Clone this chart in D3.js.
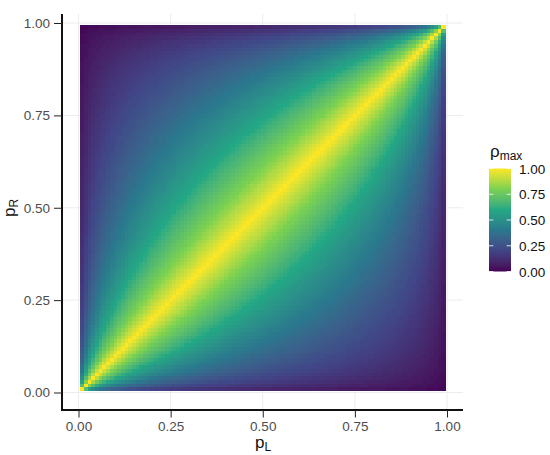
<!DOCTYPE html>
<html><head><meta charset="utf-8">
<script src="https://cdn.jsdelivr.net/npm/d3@7"></script>
<style>html,body{margin:0;padding:0;background:#fff}svg{display:block}text{font-family:"Liberation Sans",Arial,sans-serif}</style>
</head><body><svg id="c" width="550" height="455"></svg>
<script>
const tickValues=[0,0.25,0.5,0.75,1];
const tickLabels=["0.00","0.25","0.50","0.75","1.00"];
const legendTicks=[0,0.25,0.5,0.75,1];
const colorStops=[0,0.2,0.4,0.6,0.8,1];
const colorValues=["#440154","#414487","#2A788E","#22A884","#7AD151","#FDE725"];
// rho_max in percent. Row n is pL = n/100; entries run over pR = n/100 .. (100-n)/100, the rest of the square mirrors these.
const rhoRows=[
[100,70,57,49,44,40,37,34,32, 30,29,27,26,25,24,23,22,21,21, 20,19,19,18,18,17,17,17,16,16, 15,15,15,14,14,14,13,13,13,13, 12,12,12,12,11,11,11,11,10,10, 10,10,10,9,9,9,9,9,9,8, 8,8,8,8,8,7,7,7,7,7, 7,6,6,6,6,6,6,5,5,5, 5,5,5,5,4,4,4,4,4,4, 3,3,3,3,3,2,2,2,1,1],
[100,81,70,62,57,52,48,45, 43,41,39,37,35,34,33,32,30,30, 29,28,27,26,25,25,24,23,23,22, 22,21,21,20,20,19,19,19,18,18, 18,17,17,16,16,16,15,15,15,15, 14,14,14,13,13,13,13,12,12,12, 12,11,11,11,11,10,10,10,10,10, 9,9,9,9,8,8,8,8,8,7, 7,7,7,6,6,6,6,6,5,5, 5,4,4,4,4,3,3,3,2],
[100,86,77,70,64,60,56, 53,50,48,45,44,42,40,39,38,36, 35,34,33,32,31,30,30,29,28,28, 27,26,26,25,25,24,23,23,22,22, 22,21,21,20,20,19,19,19,18,18, 18,17,17,17,16,16,16,15,15,15, 14,14,14,13,13,13,13,12,12,12, 12,11,11,11,10,10,10,10,9,9, 9,9,8,8,8,7,7,7,6,6, 6,6,5,5,4,4,4,3],
[100,89,81,74,69,65, 61,58,55,53,51,49,47,45,44,42, 41,40,38,37,36,35,34,34,33,32, 31,30,30,29,28,28,27,27,26,26, 25,24,24,23,23,23,22,22,21,21, 20,20,20,19,19,18,18,18,17,17, 17,16,16,16,15,15,15,14,14,14, 13,13,13,12,12,12,11,11,11,11, 10,10,10,9,9,9,8,8,8,7, 7,6,6,6,5,5,4],
[100,91,84,78,73, 69,65,62,59,57,55,53,51,49,47, 46,45,43,42,41,40,39,38,37,36, 35,34,33,33,32,31,31,30,29,29, 28,28,27,26,26,25,25,24,24,23, 23,22,22,22,21,21,20,20,20,19, 19,18,18,18,17,17,16,16,16,15, 15,15,14,14,14,13,13,13,12,12, 11,11,11,10,10,10,9,9,8,8, 8,7,7,6,6,5],
[100,92,86,80, 76,72,68,65,63,60,58,56,54,52, 51,49,48,46,45,44,43,42,41,40, 39,38,37,36,35,34,34,33,32,32, 31,30,30,29,29,28,27,27,26,26, 25,25,24,24,23,23,22,22,22,21, 21,20,20,19,19,19,18,18,17,17, 17,16,16,15,15,15,14,14,13,13, 13,12,12,11,11,11,10,10,9,9, 8,8,7,7,6],
[100,93,87, 82,78,74,71,68,65,63,60,58,57, 55,53,52,50,49,48,46,45,44,43, 42,41,40,39,38,37,37,36,35,34, 34,33,32,32,31,30,30,29,29,28, 27,27,26,26,25,25,24,24,23,23, 22,22,21,21,21,20,20,19,19,18, 18,17,17,17,16,16,15,15,14,14, 14,13,13,12,12,12,11,11,10,10, 9,9,8,8],
[100,94, 88,84,80,76,73,70,67,65,63,61, 59,57,56,54,52,51,50,49,47,46, 45,44,43,42,41,40,39,38,38,37, 36,35,35,34,33,33,32,31,31,30, 29,29,28,28,27,27,26,26,25,25, 24,24,23,23,22,22,21,21,20,20, 19,19,18,18,17,17,17,16,16,15, 15,14,14,13,13,12,12,11,11,10, 10,9,9],
[100, 94,89,85,81,78,75,72,69,67,65, 63,61,59,58,56,54,53,52,50,49, 48,47,46,45,44,43,42,41,40,39, 39,38,37,36,35,35,34,33,33,32, 31,31,30,30,29,28,28,27,27,26, 26,25,25,24,24,23,22,22,21,21, 21,20,20,19,19,18,18,17,17,16, 16,15,15,14,14,13,13,12,12,11, 10,10],
[100,95,90,86,83,79,76,74,71,69, 67,65,63,61,59,58,56,55,53,52, 51,50,49,48,46,45,44,44,43,42, 41,40,39,38,38,37,36,35,35,34, 33,33,32,31,31,30,30,29,28,28, 27,27,26,26,25,24,24,23,23,22, 22,21,21,20,20,19,19,18,18,17, 17,16,16,15,15,14,13,13,12,12, 11],
[100,95,91,87,84,81,78,75,73, 70,68,66,64,63,61,59,58,56,55, 54,52,51,50,49,48,47,46,45,44, 43,42,41,40,40,39,38,37,37,36, 35,34,34,33,32,32,31,31,30,29, 29,28,28,27,26,26,25,25,24,24, 23,22,22,21,21,20,20,19,19,18, 18,17,16,16,15,15,14,14,13,12],
[100,96,92,88,85,82,79,76, 74,72,70,68,66,64,62,61,59,58, 56,55,54,53,51,50,49,48,47,46, 45,44,43,43,42,41,40,39,38,38, 37,36,35,35,34,33,33,32,31,31, 30,30,29,28,28,27,27,26,25,25, 24,24,23,22,22,21,21,20,20,19, 18,18,17,17,16,16,15,14,14],
[100,96,92,89,85,83,80, 77,75,73,71,69,67,65,64,62,60, 59,58,56,55,54,53,52,50,49,48, 47,46,45,44,44,43,42,41,40,39, 39,38,37,36,36,35,34,34,33,32, 32,31,30,30,29,28,28,27,27,26, 25,25,24,23,23,22,22,21,21,20, 19,19,18,17,17,16,16,15],
[100,96,92,89,86,83, 81,78,76,74,72,70,68,66,65,63, 62,60,59,58,56,55,54,53,52,50, 49,48,47,46,46,45,44,43,42,41, 40,40,39,38,37,37,36,35,34,34, 33,32,32,31,30,30,29,28,28,27, 26,26,25,25,24,23,23,22,21,21, 20,20,19,18,18,17,16],
[100,96,93,90,87, 84,82,79,77,75,73,71,69,67,66, 64,63,61,60,59,57,56,55,54,53, 51,50,49,48,47,46,46,45,44,43, 42,41,40,40,39,38,37,37,36,35, 34,34,33,32,32,31,30,29,29,28, 28,27,26,26,25,24,24,23,22,22, 21,20,20,19,18,18],
[100,96,93,90, 87,85,82,80,78,76,74,72,70,68, 67,65,64,62,61,59,58,57,56,55, 53,52,51,50,49,48,47,46,45,45, 44,43,42,41,40,40,39,38,37,36, 36,35,34,33,33,32,31,31,30,29, 29,28,27,27,26,25,25,24,23,22, 22,21,20,20,19],
[100,97,93, 90,88,85,83,81,78,76,74,73,71, 69,68,66,64,63,62,60,59,58,57, 55,54,53,52,51,50,49,48,47,46, 45,44,43,43,42,41,40,39,39,38, 37,36,35,35,34,33,32,32,31,30, 30,29,28,28,27,26,25,25,24,23, 23,22,21,20],
[100,97, 94,91,88,86,83,81,79,77,75,73, 72,70,68,67,65,64,62,61,60,59, 57,56,55,54,53,52,51,50,49,48, 47,46,45,44,43,42,42,41,40,39, 38,37,37,36,35,34,34,33,32,31, 31,30,29,28,28,27,26,26,25,24, 23,23,22],
[100, 97,94,91,89,86,84,82,80,78,76, 74,72,71,69,67,66,65,63,62,61, 59,58,57,56,55,54,52,51,50,49, 48,47,47,46,45,44,43,42,41,40, 40,39,38,37,36,36,35,34,33,32, 32,31,30,29,29,28,27,26,26,25, 24,23],
[100,97,94,92,89,87,84,82,80,78, 76,75,73,71,70,68,67,65,64,63, 61,60,59,58,56,55,54,53,52,51, 50,49,48,47,46,45,44,43,43,42, 41,40,39,38,38,37,36,35,34,34, 33,32,31,30,30,29,28,27,27,26, 25],
[100,97,94,92,89,87,85,83,81, 79,77,75,73,72,70,69,67,66,64, 63,62,61,59,58,57,56,55,54,53, 52,51,50,49,48,47,46,45,44,43, 42,41,40,40,39,38,37,36,35,35, 34,33,32,31,31,30,29,28,27,27],
[100,97,95,92,90,88,85,83, 81,79,77,76,74,72,71,69,68,66, 65,64,62,61,60,59,58,56,55,54, 53,52,51,50,49,48,47,46,45,44, 43,42,42,41,40,39,38,37,36,36, 35,34,33,32,31,31,30,29,28],
[100,97,95,92,90,88,86, 83,82,80,78,76,74,73,71,70,68, 67,66,64,63,62,60,59,58,57,56, 55,54,53,51,50,49,48,47,46,46, 45,44,43,42,41,40,39,38,37,37, 36,35,34,33,32,32,31,30],
[100,97,95,92,90,88, 86,84,82,80,78,77,75,73,72,70, 69,67,66,65,63,62,61,60,58,57, 56,55,54,53,52,51,50,49,48,47, 46,45,44,43,42,41,40,39,39,38, 37,36,35,34,33,32,32],
[100,97,95,93,90, 88,86,84,82,80,79,77,75,74,72, 71,69,68,66,65,64,63,61,60,59, 58,57,55,54,53,52,51,50,49,48, 47,46,45,44,43,42,41,40,40,39, 38,37,36,35,34,33],
[100,97,95,93, 91,88,86,84,83,81,79,77,76,74, 73,71,70,68,67,66,64,63,62,60, 59,58,57,56,55,54,53,52,50,49, 48,47,46,45,44,44,43,42,41,40, 39,38,37,36,35],
[100,98,95, 93,91,89,87,85,83,81,79,78,76, 75,73,71,70,69,67,66,65,63,62, 61,60,58,57,56,55,54,53,52,51, 50,49,48,47,46,45,44,43,42,41, 40,39,38,37],
[100,98, 95,93,91,89,87,85,83,81,80,78, 76,75,73,72,70,69,68,66,65,64, 62,61,60,59,58,56,55,54,53,52, 51,50,49,48,47,46,45,44,43,42, 41,40,39],
[100, 98,95,93,91,89,87,85,83,82,80, 78,77,75,74,72,71,69,68,67,65, 64,63,61,60,59,58,57,56,54,53, 52,51,50,49,48,47,46,45,44,43, 42,41],
[100,98,95,93,91,89,87,85,84,82, 80,79,77,75,74,72,71,70,68,67, 65,64,63,62,60,59,58,57,56,55, 53,52,51,50,49,48,47,46,45,44, 43],
[100,98,96,93,91,89,87,86,84, 82,80,79,77,76,74,73,71,70,68, 67,66,64,63,62,61,59,58,57,56, 55,54,52,51,50,49,48,47,46,45],
[100,98,96,93,91,89,88,86, 84,82,81,79,77,76,74,73,71,70, 69,67,66,65,63,62,61,60,58,57, 56,55,54,53,51,50,49,48,47],
[100,98,96,94,92,90,88, 86,84,82,81,79,78,76,75,73,72, 70,69,67,66,65,64,62,61,60,59, 57,56,55,54,53,52,50,49],
[100,98,96,94,92,90, 88,86,84,83,81,79,78,76,75,73, 72,70,69,68,66,65,64,62,61,60, 59,57,56,55,54,53,52],
[100,98,96,94,92, 90,88,86,84,83,81,79,78,76,75, 73,72,71,69,68,66,65,64,62,61, 60,59,57,56,55,54],
[100,98,96,94, 92,90,88,86,85,83,81,80,78,77, 75,74,72,71,69,68,66,65,64,63, 61,60,59,58,56],
[100,98,96, 94,92,90,88,86,85,83,81,80,78, 77,75,74,72,71,69,68,67,65,64, 63,61,60,59],
[100,98, 96,94,92,90,88,87,85,83,82,80, 78,77,75,74,72,71,69,68,67,65, 64,63,61],
[100, 98,96,94,92,90,88,87,85,83,82, 80,78,77,75,74,72,71,69,68,67, 65,64],
[100,98,96,94,92,90,88,87,85,83, 82,80,78,77,75,74,72,71,69,68, 67],
[100,98,96,94,92,90,88,87,85, 83,82,80,79,77,75,74,72,71,69],
[100,98,96,94,92,90,89,87, 85,83,82,80,79,77,75,74,72],
[100,98,96,94,92,91,89, 87,85,83,82,80,79,77,75],
[100,98,96,94,92,90, 89,87,85,84,82,80,78],
[100,98,96,94,92, 90,89,87,85,83,82],
[100,98,96,94, 92,90,89,87,85],
[100,98,96, 94,92,90,89],
[100,98, 96,94,92],
[100, 98,96],
[100]
];
const pSteps=d3.range(1,100);

const svg=d3.select("#c");
const x=d3.scaleLinear().domain([0,1]).range([78.5,447]);
const y=d3.scaleLinear().domain([0,1]).range([392.5,23]);
const fill=d3.scaleLinear().domain(colorStops).range(colorValues).interpolate(d3.interpolateLab);
const half=0.005;

const grid=svg.append("g").attr("stroke","#ececec").attr("stroke-width",1);
grid.selectAll(".v").data(tickValues).join("line").attr("x1",d=>x(d)).attr("x2",d=>x(d)).attr("y1",14).attr("y2",410);
grid.selectAll(".h").data(tickValues).join("line").attr("y1",d=>y(d)).attr("y2",d=>y(d)).attr("x1",62).attr("x2",463);

function lookup(l,r){
  let a=Math.min(l,r),b=Math.max(l,r);
  if(a+b>100){const t=a;a=100-b;b=100-t;}
  return rhoRows[a-1][b-a];
}
const cells=[];
pSteps.forEach(l=>pSteps.forEach(r=>cells.push({l,r,v:lookup(l,r)/100})));
svg.append("g").attr("shape-rendering","crispEdges").selectAll("rect").data(cells).join("rect")
  .attr("x",d=>x(d.l/100-half)).attr("y",d=>y(d.r/100+half))
  .attr("width",x(0.01)-x(0)+0.5).attr("height",y(0)-y(0.01)+0.5)
  .attr("fill",d=>fill(d.v));

// axes
const gx=svg.append("g").attr("transform","translate(0,410)")
  .call(d3.axisBottom(x).tickValues(tickValues).tickFormat((d,i)=>tickLabels[i]).tickSize(7.5).tickPadding(4));
const gy=svg.append("g").attr("transform","translate(62,0)")
  .call(d3.axisLeft(y).tickValues(tickValues).tickFormat((d,i)=>tickLabels[i]).tickSize(8).tickPadding(4));
[gx,gy].forEach(g=>{
  g.select(".domain").attr("stroke","#111").attr("stroke-width",2);
  g.selectAll(".tick line").attr("stroke","#222").attr("stroke-width",1);
  g.selectAll(".tick text").attr("fill","#4d4d4d").style("font-size","13.5px").style("font-family",'"Liberation Sans",Arial,sans-serif');
});
gx.select(".domain").attr("d","M61,0H463");
gy.select(".domain").attr("d","M0,410V14");

function subText(g,main,sub,size,subSize){
  const t=g.append("text").attr("fill","#111");
  t.append("tspan").style("font-size",size+"px").text(main);
  t.append("tspan").style("font-size",subSize+"px").attr("dy",3).text(sub);
  return t;
}
subText(svg.append("g").attr("transform","translate(263,448)"),"p","L",17,12).attr("text-anchor","middle");
subText(svg.append("g").attr("transform","translate(15,208) rotate(-90)"),"p","R",17,12).attr("text-anchor","middle");

// legend
const legY=d3.scaleLinear().domain([0,1]).range([271.5,168.5]);
const defs=svg.append("defs");
const grad=defs.append("linearGradient").attr("id","vir").attr("x1",0).attr("x2",0).attr("y1",1).attr("y2",0);
d3.range(0,1.0001,0.05).forEach(t=>grad.append("stop").attr("offset",t).attr("stop-color",fill(t)));
svg.append("rect").attr("x",489).attr("y",legY(1)).attr("width",22).attr("height",legY(0)-legY(1)).attr("fill","url(#vir)");
const lt=svg.append("g").selectAll("g").data(legendTicks).join("g");
lt.append("line").attr("x1",489).attr("x2",493.4).attr("y1",d=>legY(d)).attr("y2",d=>legY(d)).attr("stroke","#fff").attr("stroke-width",0.8);
lt.append("line").attr("x1",506.6).attr("x2",511).attr("y1",d=>legY(d)).attr("y2",d=>legY(d)).attr("stroke","#fff").attr("stroke-width",0.8);
lt.append("text").attr("x",519).attr("y",d=>legY(d)+5).attr("fill","#111").style("font-size","13.5px").text(d=>d.toFixed(2));
subText(svg.append("g").attr("transform","translate(490,157)"),"ρ","max",17,12);

const bad=[];rhoRows.forEach((r,i)=>{const n=i+1;const want=101-2*n;if(r.length!==want)bad.push(n+":"+r.length+"/"+want);});
if(bad.length){console.error("row lengths "+bad.join(" "));}
</script></body></html>
